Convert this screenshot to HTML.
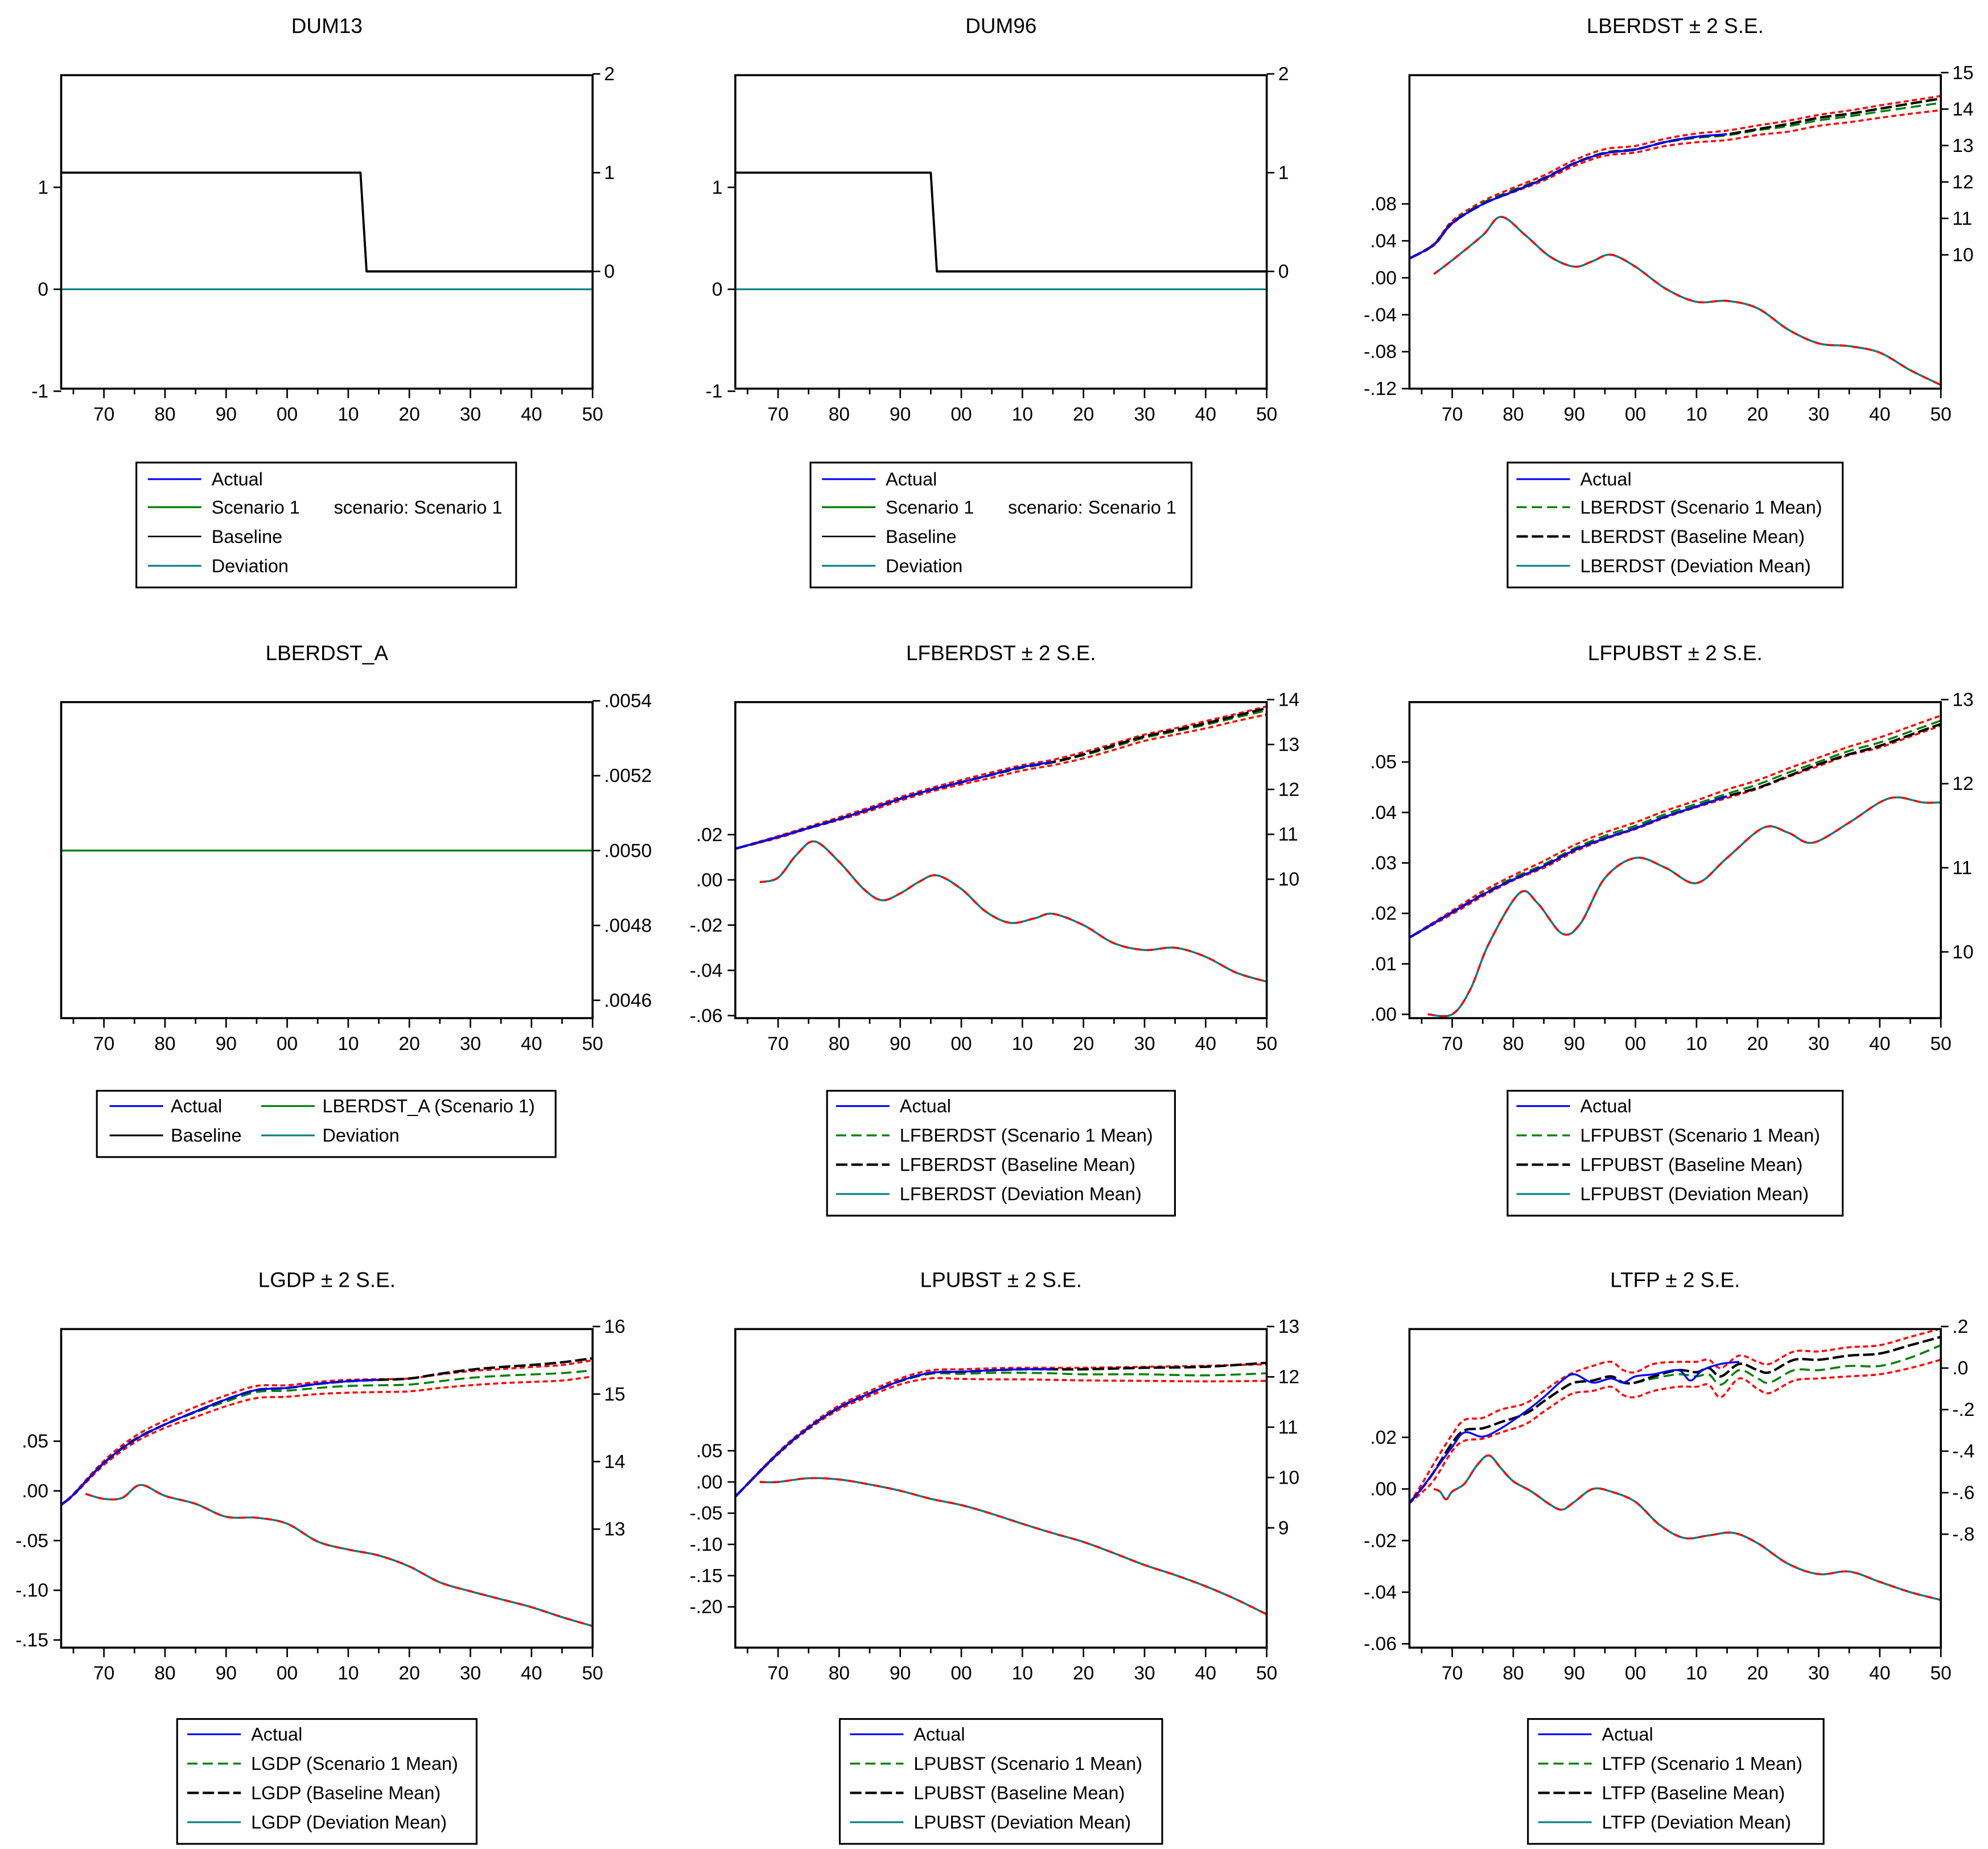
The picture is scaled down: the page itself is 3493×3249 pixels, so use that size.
<!DOCTYPE html>
<html><head><meta charset="utf-8"><title>Scenario forecast charts</title>
<style>
html,body{margin:0;padding:0;background:#fff;}
svg{display:block;}
text{font-family:"Liberation Sans",Arial,sans-serif;fill:#000;}
</style></head>
<body>
<svg id="chart" xmlns="http://www.w3.org/2000/svg" width="3493" height="3249" viewBox="0 0 3493 3249">
<rect x="0" y="0" width="3493" height="3249" fill="#fff"/>
<g id="root" transform="scale(2.2391)"></g>
</svg>
<script>
// ---------- DATA ----------
const dum13Years = [1963, 2012, 2013, 2050];
const dum13Level = [1, 1, 0, 0];
const dum96Years = [1963, 1995, 1996, 2050];
const dum96Level = [1, 1, 0, 0];
const dumDevYears = [1963, 2050];
const dumDev = [0, 0];

const lberdstYears = [1963,1967,1970,1975,1980,1985,1990,1995,2000,2005,2010,2015,2020,2025,2030,2035,2040,2045,2050];
const lberdstBase  = [9.9,10.28,10.87,11.39,11.74,12.09,12.51,12.79,12.89,13.10,13.24,13.31,13.45,13.59,13.76,13.87,14.01,14.15,14.29];
const lberdstScen  = [9.9,10.28,10.89,11.43,11.78,12.11,12.52,12.81,12.90,13.09,13.21,13.28,13.42,13.53,13.69,13.80,13.93,14.05,14.17];
const lberdstUpper = [9.9,10.30,10.93,11.47,11.84,12.18,12.60,12.90,12.99,13.19,13.33,13.41,13.55,13.68,13.84,13.96,14.10,14.23,14.36];
const lberdstLower = [9.9,10.26,10.85,11.39,11.72,12.04,12.44,12.72,12.81,12.99,13.09,13.15,13.29,13.38,13.54,13.64,13.76,13.87,13.97];
const lberdstDevYears = [1967,1970,1975,1978,1982,1986,1990,1993,1996,2000,2005,2010,2015,2020,2025,2030,2035,2040,2045,2050];
const lberdstDev = [.004,.019,.046,.066,.046,.023,.012,.018,.025,.012,-.012,-.026,-.025,-.033,-.056,-.071,-.074,-.081,-.100,-.116];

const lberdstAYears = [1963, 2050];
const lberdstAScen = [0.0050, 0.0050];

const lfberdstYears = [1963,1970,1975,1980,1985,1990,1995,2000,2005,2010,2015,2020,2025,2030,2035,2040,2045,2050];
const lfberdstBase  = [10.68,10.94,11.14,11.34,11.56,11.79,11.99,12.16,12.33,12.50,12.61,12.78,12.98,13.18,13.32,13.47,13.64,13.81];
const lfberdstScen  = [10.68,10.94,11.15,11.35,11.56,11.79,11.99,12.16,12.32,12.48,12.60,12.76,12.95,13.15,13.29,13.44,13.60,13.76];
const lfberdstUpper = [10.68,10.96,11.17,11.38,11.60,11.83,12.03,12.21,12.38,12.54,12.66,12.83,13.02,13.22,13.36,13.52,13.68,13.85];
const lfberdstLower = [10.68,10.92,11.13,11.32,11.52,11.75,11.95,12.11,12.26,12.42,12.54,12.69,12.88,13.08,13.22,13.36,13.52,13.67];
const lfberdstDevYears = [1967,1970,1973,1976,1980,1984,1987,1990,1993,1996,2000,2004,2008,2012,2015,2020,2025,2030,2035,2040,2045,2050];
const lfberdstDev = [-.001,.001,.011,.017,.008,-.004,-.009,-.006,-.001,.002,-.004,-.014,-.019,-.017,-.015,-.020,-.028,-.031,-.030,-.034,-.041,-.045];

const lfpubstYears = [1963,1970,1975,1980,1985,1990,1995,2000,2005,2010,2015,2020,2025,2030,2035,2040,2045,2050];
const lfpubstBase  = [10.17,10.47,10.68,10.86,11.02,11.21,11.35,11.47,11.61,11.73,11.85,11.95,12.09,12.23,12.35,12.45,12.58,12.71];
const lfpubstScen  = [10.17,10.47,10.69,10.88,11.04,11.23,11.38,11.50,11.64,11.76,11.88,11.99,12.13,12.26,12.39,12.49,12.62,12.75];
const lfpubstUpper = [10.17,10.49,10.72,10.91,11.08,11.27,11.42,11.54,11.68,11.80,11.93,12.04,12.18,12.31,12.44,12.55,12.68,12.81];
const lfpubstLower = [10.17,10.45,10.66,10.85,11.00,11.19,11.34,11.46,11.60,11.72,11.83,11.94,12.08,12.21,12.34,12.43,12.56,12.69];
const lfpubstDevYears = [1966,1970,1973,1976,1981,1984,1988,1991,1995,2000,2005,2010,2015,2021,2025,2029,2035,2040,2043,2047,2050];
const lfpubstDev = [.000,.000,.005,.014,.024,.022,.016,.018,.027,.031,.029,.026,.031,.037,.036,.034,.038,.042,.043,.042,.042];

const lgdpYears = [1963,1965,1970,1975,1980,1985,1990,1995,2000,2005,2010,2015,2020,2025,2030,2035,2040,2045,2050];
const lgdpBase  = [13.36,13.51,13.98,14.32,14.55,14.74,14.92,15.06,15.09,15.15,15.19,15.21,15.23,15.30,15.36,15.40,15.43,15.47,15.53];
const lgdpScen  = [13.36,13.51,13.98,14.33,14.55,14.73,14.89,15.03,15.05,15.09,15.12,15.13,15.14,15.19,15.24,15.27,15.29,15.31,15.35];
const lgdpUpper = [13.36,13.52,14.01,14.37,14.61,14.81,14.98,15.12,15.13,15.18,15.21,15.22,15.23,15.29,15.34,15.37,15.40,15.43,15.50];
const lgdpLower = [13.36,13.50,13.95,14.28,14.50,14.66,14.82,14.94,14.96,15.00,15.02,15.03,15.04,15.09,15.13,15.16,15.18,15.20,15.26];
const lgdpDevYears = [1967,1970,1973,1976,1980,1985,1990,1995,2000,2005,2010,2015,2020,2025,2030,2035,2040,2045,2050];
const lgdpDev = [-.003,-.008,-.007,.006,-.005,-.013,-.026,-.027,-.033,-.051,-.059,-.065,-.076,-.092,-.101,-.109,-.117,-.127,-.136];

const lpubstYears = [1963,1970,1975,1980,1985,1990,1995,2000,2005,2010,2015,2020,2030,2040,2050];
const lpubstBase  = [9.62,10.48,10.99,11.39,11.67,11.92,12.08,12.10,12.13,12.15,12.15,12.15,12.18,12.20,12.28];
const lpubstScen  = [9.62,10.48,10.99,11.39,11.67,11.91,12.06,12.06,12.08,12.08,12.07,12.05,12.05,12.03,12.07];
const lpubstUpper = [9.62,10.50,11.02,11.43,11.72,11.97,12.13,12.15,12.17,12.18,12.18,12.18,12.20,12.22,12.25];
const lpubstLower = [9.62,10.46,10.96,11.35,11.62,11.85,11.97,11.96,11.95,11.95,11.94,11.93,11.92,11.91,11.92];
const lpubstDevYears = [1967,1970,1975,1980,1985,1990,1995,2000,2005,2010,2015,2020,2025,2030,2035,2040,2045,2050];
const lpubstDev = [.000,.000,.006,.004,-.004,-.014,-.027,-.037,-.051,-.067,-.082,-.096,-.114,-.133,-.149,-.167,-.188,-.212];

const ltfpYears = [1963,1965,1967,1970,1972,1975,1978,1982,1985,1988,1990,1993,1996,1998,2000,2003,2007,2010,2012,2014,2017,2020,2022,2026,2030,2035,2040,2045,2050];
const ltfpBase  = [-.65,-.58,-.50,-.36,-.30,-.29,-.26,-.22,-.16,-.10,-.07,-.06,-.04,-.07,-.07,-.04,-.01,-.02,.00,-.04,.02,-.01,-.02,.04,.04,.06,.07,.11,.15];
const ltfpScen  = [-.65,-.58,-.50,-.36,-.30,-.29,-.26,-.22,-.16,-.10,-.07,-.06,-.04,-.07,-.07,-.05,-.03,-.04,-.03,-.08,-.01,-.05,-.07,-.01,-.01,.01,.01,.05,.11];
const ltfpUpper = [-.65,-.56,-.46,-.32,-.25,-.24,-.20,-.17,-.11,-.05,-.02,.01,.03,-.01,-.02,.02,.03,.03,.04,.00,.06,.03,.02,.08,.08,.10,.11,.15,.19];
const ltfpLower = [-.65,-.60,-.54,-.40,-.35,-.34,-.31,-.27,-.21,-.15,-.12,-.11,-.09,-.13,-.14,-.11,-.09,-.09,-.08,-.14,-.05,-.10,-.12,-.06,-.05,-.04,-.03,.00,.04];
const ltfpActualYears = [1963,1965,1967,1970,1972,1975,1978,1982,1985,1988,1990,1993,1996,1998,2000,2003,2007,2009,2011,2014,2017];
const ltfpActual = [-.65,-.58,-.50,-.38,-.31,-.33,-.29,-.21,-.14,-.06,-.03,-.07,-.05,-.07,-.04,-.03,-.01,-.06,-.01,.02,.03];
const ltfpDevYears = [1967,1968,1969,1970,1972,1974,1976,1978,1980,1983,1986,1988,1990,1993,1996,2000,2004,2008,2012,2016,2020,2025,2030,2035,2040,2045,2050];
const ltfpDev = [.000,-.001,-.004,-.001,.002,.009,.013,.008,.003,-.001,-.006,-.008,-.005,.000,-.001,-.005,-.014,-.019,-.018,-.017,-.021,-.029,-.033,-.032,-.036,-.040,-.043];

const xTickYears = [1970,1980,1990,2000,2010,2020,2030,2040,2050];
const xTickLabels = ["70","80","90","00","10","20","30","40","50"];

// ---------- RENDER ----------
const NS = "http://www.w3.org/2000/svg";
const root = document.getElementById("root");
const BLUE = "#0000ff", GREEN = "#008000", BLACK = "#000", TEAL = "#008080", RED = "#ff0000";

function mk(tag, attrs, parent) {
  const e = document.createElementNS(NS, tag);
  for (const k in attrs) e.setAttribute(k, attrs[k]);
  (parent || root).appendChild(e);
  return e;
}
function linScale(v1, p1, v2, p2) { return v => p1 + (v - v1) * (p2 - p1) / (v2 - v1); }

function smoothPath(pts) {
  if (pts.length < 3) return "M" + pts.map(p => p[0].toFixed(2) + "," + p[1].toFixed(2)).join("L");
  let d = "M" + pts[0][0].toFixed(2) + "," + pts[0][1].toFixed(2);
  for (let i = 0; i < pts.length - 1; i++) {
    const p0 = pts[Math.max(0, i - 1)], p1 = pts[i], p2 = pts[i + 1], p3 = pts[Math.min(pts.length - 1, i + 2)];
    const c1 = [p1[0] + (p2[0] - p0[0]) / 6, p1[1] + (p2[1] - p0[1]) / 6];
    const c2 = [p2[0] - (p3[0] - p1[0]) / 6, p2[1] - (p3[1] - p1[1]) / 6];
    d += "C" + c1[0].toFixed(2) + "," + c1[1].toFixed(2) + " " + c2[0].toFixed(2) + "," + c2[1].toFixed(2) + " " + p2[0].toFixed(2) + "," + p2[1].toFixed(2);
  }
  return d;
}

function drawPanel(p) {
  const g = mk("g", {});
  
  
  const [x0, y0, x1, y1] = p.frame;
  const xs = linScale(1963, x0, 2050, x1);
  const ly = linScale(p.left.v1, p.left.p1, p.left.v2, p.left.p2);
  const ry = linScale(p.right.v1, p.right.p1, p.right.v2, p.right.p2);

  const t = mk("text", {x: (x0 + x1) / 2, y: y0 - 33, "text-anchor": "middle", "font-size": 16.5}, g);
  t.textContent = p.title;
  
  

  const sg = mk("g", {}, g);
  p.series.forEach(s => {
    const sc = s.axis === "left" ? ly : ry;
    const pts = s.x.map((yr, i) => [xs(yr), sc(s.y[i])]);
    const path = mk("path", {d: s.step ? "M" + pts.map(q => q[0] + "," + q[1]).join("L") : smoothPath(pts),
      fill: "none", stroke: s.color, "stroke-width": s.w || 1.4, "stroke-dasharray": s.dash || "none", "stroke-linejoin": "round"}, sg);
    
    
  });

  const fr = mk("rect", {x: x0, y: y0, width: x1 - x0, height: y1 - y0, fill: "none", stroke: "#000", "stroke-width": 1.6}, g);
  
  

  for (let yr = 1965; yr <= 2050; yr += 5) {
    const major = yr % 10 === 0;
    mk("line", {x1: xs(yr), y1: y1, x2: xs(yr), y2: y1 + (major ? 7.5 : 4.5), stroke: "#000", "stroke-width": 1.2}, g);
  }
  xTickYears.forEach((yr, i) => {
    const tx = mk("text", {x: xs(yr), y: y1 + 25, "text-anchor": "middle", "font-size": 15}, g);
    tx.textContent = xTickLabels[i];
    
    
  });
  p.left.ticks.forEach((v, i) => {
    const yy = ly(v);
    mk("line", {x1: x0 - 6, y1: yy, x2: x0, y2: yy, stroke: "#000", "stroke-width": 1.2}, g);
    const tx = mk("text", {x: x0 - 10, y: yy + 5, "text-anchor": "end", "font-size": 15}, g);
    tx.textContent = p.left.labels[i];
    
    
  });
  p.right.ticks.forEach((v, i) => {
    const yy = ry(v);
    mk("line", {x1: x1, y1: yy, x2: x1 + 6, y2: yy, stroke: "#000", "stroke-width": 1.2}, g);
    const tx = mk("text", {x: x1 + 9, y: yy + 5, "text-anchor": "start", "font-size": 15}, g);
    tx.textContent = p.right.labels[i];
    
    
  });

  const L = p.legend;
  const lg = mk("g", {}, g);
  
  
  mk("rect", {x: L.box[0], y: L.box[1], width: L.box[2] - L.box[0], height: L.box[3] - L.box[1], fill: "#fff", stroke: "#000", "stroke-width": 1.4}, lg);
  L.items.forEach(it => {
    const e = mk("g", {}, lg);
    
    
    if (it.color) mk("line", {x1: it.lx, y1: it.y, x2: it.lx + 42, y2: it.y, stroke: it.color, "stroke-width": it.w || 1.4, "stroke-dasharray": it.dash || "none"}, e);
    const tx = mk("text", {x: it.tx, y: it.y + 5, "font-size": 14.5}, e);
    tx.textContent = it.text;
  });
}

const DASH_SCEN = "8,4", DASH_BASE = "9,3", DASH_RED = "4,2.5";

function stdLegend(box, lx, ys, names) {
  const cols = [BLUE, GREEN, BLACK, TEAL];
  const dashes = ["none", DASH_SCEN, DASH_BASE, "none"];
  const ws = [1.4, 1.5, 1.9, 1.4];
  return {box: box, items: names.map((n, i) => ({lx: lx, tx: lx + 50, y: ys[i], text: n, color: cols[i], dash: dashes[i], w: ws[i]}))};
}
function forecastSeries(yrs, base, scen, up, lo, dyrs, dev, actYrs, act) {
  return [
    {label: "upper-band", axis: "right", x: yrs, y: up, color: RED, dash: DASH_RED, w: 1.6},
    {label: "lower-band", axis: "right", x: yrs, y: lo, color: RED, dash: DASH_RED, w: 1.6},
    {label: "scenario-mean-line", axis: "right", x: yrs, y: scen, color: GREEN, dash: DASH_SCEN, w: 1.6},
    {label: "baseline-mean-line", axis: "right", x: yrs, y: base, color: BLACK, dash: DASH_BASE, w: 1.9},
    {label: "actual-line", axis: "right", x: actYrs, y: act, color: BLUE, w: 1.5},
    {label: "deviation-mean-line", axis: "left", x: dyrs, y: dev, color: TEAL, w: 1.6},
    {label: "deviation-band", axis: "left", x: dyrs, y: dev, color: RED, dash: "5,5", w: 1.6}
  ];
}
const R1 = [376, 398, 421, 444], R2 = [868, 891, 914, 937], R3 = [1361, 1384, 1407, 1430];

drawPanel({name: "dum13", title: "DUM13", frame: [48, 59, 465, 305],
  left: {v1: 1, p1: 147, v2: 0, p2: 227, ticks: [1, 0, -1], labels: ["1", "0", "-1"]},
  right: {v1: 2, p1: 58, v2: 0, p2: 213, ticks: [2, 1, 0], labels: ["2", "1", "0"]},
  series: [
    {label: "baseline-line", axis: "right", x: dum13Years, y: dum13Level, color: BLACK, w: 1.7, step: true},
    {label: "deviation-line", axis: "left", x: dumDevYears, y: dumDev, color: TEAL, w: 1.4, step: true}],
  legend: (() => { const l = stdLegend([107, 363, 405, 461], 116, R1, ["Actual", "Scenario 1", "Baseline", "Deviation"]);
    l.items[1].dash = "none"; l.items[2].dash = "none"; l.items[2].w = 1.2;
    l.items.push({tx: 262, y: R1[1], text: "scenario: Scenario 1"}); return l; })()
});
drawPanel({name: "dum96", title: "DUM96", frame: [577, 59, 994, 305],
  left: {v1: 1, p1: 147, v2: 0, p2: 227, ticks: [1, 0, -1], labels: ["1", "0", "-1"]},
  right: {v1: 2, p1: 58, v2: 0, p2: 213, ticks: [2, 1, 0], labels: ["2", "1", "0"]},
  series: [
    {label: "baseline-line", axis: "right", x: dum96Years, y: dum96Level, color: BLACK, w: 1.7, step: true},
    {label: "deviation-line", axis: "left", x: dumDevYears, y: dumDev, color: TEAL, w: 1.4, step: true}],
  legend: (() => { const l = stdLegend([636, 363, 935, 461], 645, R1, ["Actual", "Scenario 1", "Baseline", "Deviation"]);
    l.items[1].dash = "none"; l.items[2].dash = "none"; l.items[2].w = 1.2;
    l.items.push({tx: 791, y: R1[1], text: "scenario: Scenario 1"}); return l; })()
});
drawPanel({name: "lberdst", title: "LBERDST \u00b1 2 S.E.", frame: [1106, 59, 1523, 305],
  left: {v1: 0.08, p1: 160, v2: -0.12, p2: 305, ticks: [.08, .04, 0, -.04, -.08, -.12], labels: [".08", ".04", ".00", "-.04", "-.08", "-.12"]},
  right: {v1: 15, p1: 57, v2: 10, p2: 200, ticks: [15, 14, 13, 12, 11, 10], labels: ["15", "14", "13", "12", "11", "10"]},
  series: forecastSeries(lberdstYears, lberdstBase, lberdstScen, lberdstUpper, lberdstLower, lberdstDevYears, lberdstDev, lberdstYears.slice(0, 12), lberdstBase.slice(0, 12)),
  legend: stdLegend([1183, 363, 1446, 461], 1190, R1, ["Actual", "LBERDST (Scenario 1 Mean)", "LBERDST (Baseline Mean)", "LBERDST (Deviation Mean)"])
});

drawPanel({name: "lberdst-a", title: "LBERDST_A", frame: [48, 551, 465, 799],
  left: {v1: 0, p1: 670, v2: 1, p2: 600, ticks: [], labels: []},
  right: {v1: 0.0054, p1: 550, v2: 0.0046, p2: 785, ticks: [.0054, .0052, .0050, .0048, .0046], labels: [".0054", ".0052", ".0050", ".0048", ".0046"]},
  series: [{label: "scenario-line", axis: "right", x: lberdstAYears, y: lberdstAScen, color: GREEN, w: 1.5, step: true}],
  legend: {box: [76, 856, 436, 908], items: [
    {lx: 86, tx: 134, y: R2[0], text: "Actual", color: BLUE},
    {lx: 205, tx: 253, y: R2[0], text: "LBERDST_A (Scenario 1)", color: GREEN},
    {lx: 86, tx: 134, y: R2[1], text: "Baseline", color: BLACK},
    {lx: 205, tx: 253, y: R2[1], text: "Deviation", color: TEAL}]}
});
drawPanel({name: "lfberdst", title: "LFBERDST \u00b1 2 S.E.", frame: [577, 551, 994, 799],
  left: {v1: 0.02, p1: 655, v2: -0.06, p2: 797, ticks: [.02, 0, -.02, -.04, -.06], labels: [".02", ".00", "-.02", "-.04", "-.06"]},
  right: {v1: 14, p1: 549, v2: 10, p2: 690, ticks: [14, 13, 12, 11, 10], labels: ["14", "13", "12", "11", "10"]},
  series: forecastSeries(lfberdstYears, lfberdstBase, lfberdstScen, lfberdstUpper, lfberdstLower, lfberdstDevYears, lfberdstDev, lfberdstYears.slice(0, 11), lfberdstBase.slice(0, 11)),
  legend: stdLegend([649, 856, 922, 954], 656, R2, ["Actual", "LFBERDST (Scenario 1 Mean)", "LFBERDST (Baseline Mean)", "LFBERDST (Deviation Mean)"])
});
drawPanel({name: "lfpubst", title: "LFPUBST \u00b1 2 S.E.", frame: [1106, 551, 1523, 799],
  left: {v1: 0.05, p1: 598, v2: 0, p2: 796, ticks: [.05, .04, .03, .02, .01, 0], labels: [".05", ".04", ".03", ".02", ".01", ".00"]},
  right: {v1: 13, p1: 549, v2: 10, p2: 747, ticks: [13, 12, 11, 10], labels: ["13", "12", "11", "10"]},
  series: forecastSeries(lfpubstYears, lfpubstBase, lfpubstScen, lfpubstUpper, lfpubstLower, lfpubstDevYears, lfpubstDev, lfpubstYears.slice(0, 11), lfpubstBase.slice(0, 11)),
  legend: stdLegend([1183, 856, 1446, 954], 1190, R2, ["Actual", "LFPUBST (Scenario 1 Mean)", "LFPUBST (Baseline Mean)", "LFPUBST (Deviation Mean)"])
});

drawPanel({name: "lgdp", title: "LGDP \u00b1 2 S.E.", frame: [48, 1043, 465, 1293],
  left: {v1: 0.05, p1: 1131, v2: -0.15, p2: 1287, ticks: [.05, 0, -.05, -.10, -.15], labels: [".05", ".00", "-.05", "-.10", "-.15"]},
  right: {v1: 16, p1: 1041, v2: 13, p2: 1200, ticks: [16, 15, 14, 13], labels: ["16", "15", "14", "13"]},
  series: forecastSeries(lgdpYears, lgdpBase, lgdpScen, lgdpUpper, lgdpLower, lgdpDevYears, lgdpDev, lgdpYears.slice(0, 12), lgdpBase.slice(0, 12)),
  legend: stdLegend([139, 1349, 374, 1447], 147, R3, ["Actual", "LGDP (Scenario 1 Mean)", "LGDP (Baseline Mean)", "LGDP (Deviation Mean)"])
});
drawPanel({name: "lpubst", title: "LPUBST \u00b1 2 S.E.", frame: [577, 1043, 994, 1293],
  left: {v1: 0, p1: 1163, v2: -0.20, p2: 1261, ticks: [.05, 0, -.05, -.10, -.15, -.20], labels: [".05", ".00", "-.05", "-.10", "-.15", "-.20"]},
  right: {v1: 13, p1: 1041, v2: 9, p2: 1199, ticks: [13, 12, 11, 10, 9], labels: ["13", "12", "11", "10", "9"]},
  series: forecastSeries(lpubstYears, lpubstBase, lpubstScen, lpubstUpper, lpubstLower, lpubstDevYears, lpubstDev, lpubstYears.slice(0, 11), lpubstBase.slice(0, 11)),
  legend: stdLegend([659, 1349, 912, 1447], 667, R3, ["Actual", "LPUBST (Scenario 1 Mean)", "LPUBST (Baseline Mean)", "LPUBST (Deviation Mean)"])
});
drawPanel({name: "ltfp", title: "LTFP \u00b1 2 S.E.", frame: [1106, 1043, 1523, 1293],
  left: {v1: 0.02, p1: 1128, v2: -0.06, p2: 1290, ticks: [.02, 0, -.02, -.04, -.06], labels: [".02", ".00", "-.02", "-.04", "-.06"]},
  right: {v1: 0.2, p1: 1041, v2: -0.8, p2: 1204, ticks: [.2, 0, -.2, -.4, -.6, -.8], labels: [".2", ".0", "-.2", "-.4", "-.6", "-.8"]},
  series: forecastSeries(ltfpYears, ltfpBase, ltfpScen, ltfpUpper, ltfpLower, ltfpDevYears, ltfpDev, ltfpActualYears, ltfpActual),
  legend: stdLegend([1199, 1349, 1431, 1447], 1207, R3, ["Actual", "LTFP (Scenario 1 Mean)", "LTFP (Baseline Mean)", "LTFP (Deviation Mean)"])
});
</script>
</body></html>
